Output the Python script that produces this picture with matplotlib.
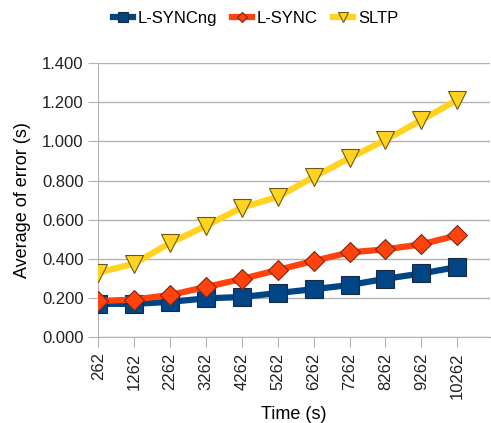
import numpy as np
import matplotlib
matplotlib.use("Agg")
import matplotlib.pyplot as plt
from matplotlib.ticker import FormatStrFormatter

plt.rcParams["font.family"] = ["Liberation Sans", "DejaVu Sans"]

times = ["262", "1262", "2262", "3262", "4262", "5262", "6262", "7262", "8262", "9262", "10262"]
l_syncng = [0.170, 0.170, 0.180, 0.198, 0.205, 0.225, 0.245, 0.266, 0.298, 0.325, 0.358]
l_sync = [0.184, 0.192, 0.215, 0.256, 0.297, 0.343, 0.389, 0.433, 0.448, 0.474, 0.520]
sltp = [0.330, 0.375, 0.481, 0.568, 0.662, 0.716, 0.818, 0.914, 1.008, 1.108, 1.212]

x = np.arange(len(times))

fig = plt.figure(figsize=(4.91, 4.23), dpi=100)
ax = fig.add_axes([0.2, 0.203, 0.797, 0.648])

ax.plot(x, l_syncng, color="#004586", lw=4.5, marker="s", markersize=12.5,
        markeredgecolor="#1a2a40", markeredgewidth=0.8, label="L-SYNCng", zorder=3)
ax.plot(x, l_sync, color="#ff420e", lw=4.5, marker="D", markersize=10,
        markeredgecolor="#7a2a10", markeredgewidth=0.8, label="L-SYNC", zorder=4)
ax.plot(x, sltp, color="#ffd320", lw=4.5, marker="v", markersize=13.5,
        markeredgecolor="#6b5a10", markeredgewidth=0.8, label="SLTP", zorder=5)

ax.set_xlim(0, 10.9)
ax.set_ylim(0, 1.4)
ax.set_yticks(np.arange(0, 1.401, 0.2))
ax.yaxis.set_major_formatter(FormatStrFormatter("%.3f"))
ax.set_xticks(x)
ax.set_xticklabels(times, rotation=90)
ax.tick_params(axis="both", labelsize=12, color="#b3b3b3", length=7, labelcolor="#222222")
ax.tick_params(axis="x", direction="out", pad=4)
ax.grid(axis="y", color="#b3b3b3", lw=1)
ax.set_axisbelow(True)
for s in ["top", "right"]:
    ax.spines[s].set_visible(False)
for s in ["left", "bottom"]:
    ax.spines[s].set_color("#b3b3b3")

ax.set_xlabel("Time (s)", fontsize=13, labelpad=5)
ax.set_ylabel("Average of error (s)", fontsize=13, labelpad=8)

fig.legend(loc="upper center", bbox_to_anchor=(0.52, 1.01), ncol=3, frameon=False,
           fontsize=12, handlelength=1.2, handletextpad=0.3, columnspacing=0.9,
           markerscale=0.55)

fig.savefig("out.png", dpi=100)
